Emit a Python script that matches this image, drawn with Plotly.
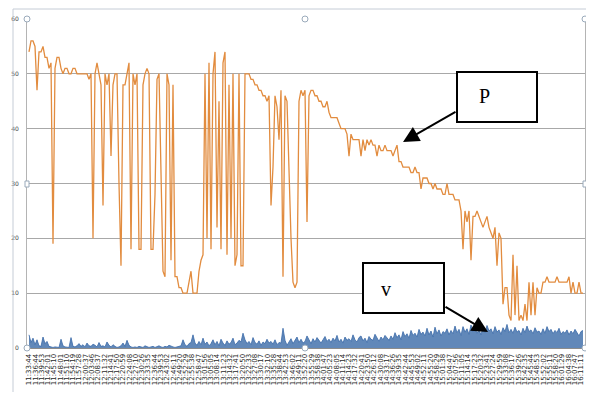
import numpy as np
import plotly.graph_objects as go

# ---------------- data ----------------
time_labels = [
    "11:33:44", "11:36:44", "11:39:53", "11:42:01", "11:45:10", "11:48:01", "11:51:10", "11:54:19",
    "11:57:28", "12:00:37", "12:03:46", "12:08:37", "12:11:32", "12:14:41", "12:17:50", "12:20:59",
    "12:24:08", "12:27:10", "12:30:26", "12:33:35", "12:36:44", "12:39:53", "12:43:02", "12:46:11",
    "12:49:20", "12:52:29", "12:55:38", "12:58:47", "13:01:56", "13:05:05", "13:08:14", "13:11:23",
    "13:14:32", "13:17:41", "13:20:50", "13:22:33", "13:27:08", "13:30:17", "13:32:10", "13:35:28",
    "13:38:44", "13:42:53", "13:46:02", "13:49:11", "13:52:20", "13:55:29", "13:58:38", "14:01:47",
    "14:05:23", "14:08:05", "14:11:14", "14:14:23", "14:17:32", "14:20:41", "14:23:50", "14:26:12",
    "14:30:08", "14:33:17", "14:36:26", "14:39:35", "14:42:44", "14:45:53", "14:49:02", "14:52:11",
    "14:55:20", "14:58:29", "15:01:38", "15:04:47", "15:07:56", "15:11:05", "15:14:14", "15:17:23",
    "15:20:32", "15:23:41", "15:27:24", "15:29:59", "15:33:08", "15:36:17", "15:39:26", "15:42:35",
    "15:45:44", "15:48:53", "15:52:02", "15:55:11", "15:58:20", "16:01:29", "16:04:38", "16:07:47",
    "16:11:11",
]

P_values = [
    54, 56, 56, 55, 47, 54, 54, 55, 53, 53, 51,
    52, 19, 51, 53, 53, 51, 50, 51, 51, 50,
    50, 51, 51, 50, 50, 50, 50, 50, 50, 49,
    50, 20, 50, 52, 50, 48, 26, 50, 48, 50,
    35, 48, 50, 50, 30, 15, 48, 48, 50, 52,
    18, 50, 48, 50, 18, 18, 48, 50, 51, 50,
    18, 18, 28, 49, 50, 32, 14, 13, 50, 48,
    16, 48, 13, 13, 11, 11, 10, 10, 10, 12,
    14, 10, 10, 10, 14, 16, 17, 50, 20, 52,
    18, 50, 54, 22, 45, 18, 52, 54, 17, 48,
    20, 50, 15, 17, 50, 15, 15, 50, 50, 50,
    49, 49, 48, 48, 47, 47, 46, 46, 45, 46,
    26, 33, 46, 44, 38, 47, 13, 46, 45, 30,
    20, 12, 11, 12, 45, 47, 46, 47, 23, 46,
    47, 47, 46, 46, 45, 45, 44, 44, 45, 43,
    42, 42, 42, 42, 41, 40, 40, 40, 39, 35,
    39, 38, 38, 38, 38, 35, 38, 36, 38, 37,
    38, 37, 37, 35, 37, 36, 36, 37, 36, 36,
    36, 35, 36, 37, 34, 34, 33, 33, 33, 33,
    32, 32, 33, 32, 32, 29, 31, 31, 31, 30,
    30, 29, 30, 29, 29, 29, 28, 28, 30, 28,
    28, 28, 27, 27, 27, 25, 18, 25, 23, 25,
    16, 24, 24, 25, 24, 23, 22, 23, 24, 22,
    21, 20, 22, 15, 21, 20, 8, 11, 11, 6,
    5, 17, 6, 15, 5, 6, 5, 8, 5, 12,
    6, 12, 6, 11, 10, 10, 12, 12, 13, 12,
    12, 12, 12, 13, 12, 12, 12, 12, 12, 13,
    10, 12, 10, 10, 12, 10, 10,
]

v_values = [
    2.4, 1.0, 1.8, 0.6, 1.5, 0.4, 0.3, 2.0, 0.8, 1.2, 0.3, 0.2, 0.1, 0.2, 0.1, 0.1,
    1.6, 0.4, 0.2, 0.1, 0.1, 1.9, 0.3, 0.2, 0.4, 0.8, 0.3, 0.6, 0.2, 0.9, 0.4,
    0.3, 0.7, 0.5, 0.2, 1.0, 0.3, 0.4, 0.2, 1.1, 0.5, 0.2, 0.6, 0.3, 0.1, 0.2,
    0.4, 0.9, 0.3, 1.4, 0.5, 0.2, 0.1, 0.2, 0.1, 0.3, 0.2, 0.1, 0.4, 0.2, 0.1,
    0.2, 0.3, 0.1, 0.2, 0.4, 0.2, 0.1, 0.3, 0.2, 0.5, 0.3, 0.2, 0.1, 0.2, 0.3,
    0.4, 1.5, 0.6, 0.3, 0.8, 1.0, 2.4, 0.9, 0.5, 1.2, 0.6, 1.8, 0.7, 1.1, 0.4,
    0.8, 1.5, 0.6, 1.2, 0.4, 1.6, 0.9, 0.5, 1.3, 0.7, 1.0, 1.8, 0.6, 0.9, 1.4,
    1.1, 2.7, 1.5, 0.8, 1.2, 0.6, 1.9, 1.0, 0.7, 1.3, 0.5, 1.1, 0.8, 1.6, 0.9,
    1.2, 0.7, 1.5, 0.6, 1.0, 0.9, 3.6, 1.4, 0.5, 1.1, 1.7, 0.8, 1.3, 2.0, 1.0,
    1.6, 0.9, 1.2, 2.2, 1.4, 0.8, 1.7, 1.1, 1.9, 1.3, 0.9, 1.5, 2.1, 1.2, 1.6,
    1.0, 1.8, 1.3, 2.3, 1.1, 1.6, 0.9, 2.0, 1.4, 1.7, 1.2, 2.4, 1.5, 1.1, 1.9,
    2.2, 1.3, 1.8, 1.0, 2.1, 1.6, 1.4, 2.5, 1.7, 1.2, 2.0, 1.5, 2.3, 1.8, 1.4,
    2.2, 1.6, 2.8, 1.9, 2.4, 1.5, 3.0, 2.1, 2.6, 1.8, 3.2, 2.3, 2.7, 2.0, 3.4,
    2.5, 2.9, 2.2, 3.6, 2.4, 3.1, 2.0, 3.8, 2.6, 3.3, 2.2, 3.0, 2.7, 3.5, 2.4,
    3.2, 2.6, 4.0, 2.8, 3.4, 2.3, 3.9, 2.9, 3.5, 2.5, 4.2, 3.0, 3.6, 2.7, 3.3,
    2.4, 3.8, 2.8, 4.1, 3.1, 3.5, 2.6, 3.9, 2.9, 3.3, 2.5, 3.7, 3.0, 4.3, 2.8,
    3.4, 2.7, 3.8, 2.9, 3.2, 2.4, 3.6, 2.8, 4.0, 3.0, 3.3, 2.6, 3.7, 2.9, 3.1,
    2.5, 3.5, 2.7, 3.9, 3.0, 3.4, 2.6, 3.2, 2.8, 3.6, 2.5, 3.0, 2.7, 3.3, 2.4,
    3.1, 2.6, 3.4, 2.8, 2.2, 3.0, 3.2,
]

y_ticks = [0, 10, 20, 30, 40, 50, 60]

# ---------------- figure ----------------
# the page body adds an 8px offset, so the figure is sized/shifted to compensate
OFF = 8
W, H = 594 - OFF, 394 - OFF
L, R, T = 27 - OFF, 9, 19 - OFF
B = H - (348 - OFF)
pw, ph = W - L - R, H - T - B

def px(x):
    return (x - OFF - L) / pw

def py(y):
    return (H - B - (y - OFF)) / ph

n_lab = len(time_labels)
unit = (581 - 29) / (n_lab - 1)
x_end = (583 - 29) / unit
xP = np.linspace(0, x_end, len(P_values))
xv = np.linspace(0, x_end, len(v_values))
x_range = [-(29 - 27) / unit, (585 - 29) / unit]

fig = go.Figure()
fig.add_trace(go.Scatter(
    x=xv, y=v_values, mode="lines", name="v",
    line=dict(color="#3a6aa8", width=0.8), fill="tozeroy", fillcolor="rgba(58,106,168,0.8)",
))
fig.add_trace(go.Scatter(
    x=xP, y=P_values, mode="lines", name="P",
    line=dict(color="#e28c3f", width=1.3),
))

fig.update_layout(
    width=W, height=H,
    margin=dict(l=L, r=R, t=T, b=B, autoexpand=False),
    paper_bgcolor="white", plot_bgcolor="white",
    showlegend=False,
    font=dict(family="DejaVu Sans", color="#333333"),
)
fig.update_xaxes(
    range=x_range, tickmode="array", automargin=False,
    tickvals=list(range(n_lab)), ticktext=time_labels,
    tickangle=-90, tickfont=dict(size=7, color="#2a2a2a", family="DejaVu Sans"),
    showgrid=False, zeroline=False,
    showline=True, linecolor="#8c8c8c", linewidth=1,
    ticks="", ticklabelstandoff=2,
)
fig.update_yaxes(
    range=[0, 60], tickmode="array", tickvals=y_ticks, automargin=False,
    tickfont=dict(size=6, color="#444444"),
    showgrid=True, gridcolor="#a8a8a8", gridwidth=1,
    zeroline=False, showline=True, linecolor="#b4b4b4", mirror=True,
    ticks="", ticklabelstandoff=6,
)

shapes = []
# outer chart frame (left and top)
shapes.append(dict(type="line", xref="paper", yref="paper", x0=px(13), x1=px(13), y0=py(9), y1=py(392),
                   line=dict(color="#c5ccd6", width=1)))
shapes.append(dict(type="line", xref="paper", yref="paper", x0=px(13), x1=px(590), y0=py(9), y1=py(9),
                   line=dict(color="#c5ccd6", width=1)))
# plot area selection handles
for hx, hy in [(27, 19), (305, 19), (585, 19), (27, 348), (305, 348), (585, 348)]:
    shapes.append(dict(type="circle", xref="paper", yref="paper",
                       x0=px(hx - 3), x1=px(hx + 3), y0=py(hy + 3), y1=py(hy - 3),
                       line=dict(color="#9aaabb", width=1), fillcolor="white"))
for hx, hy in [(27, 184), (585, 184)]:
    shapes.append(dict(type="rect", xref="paper", yref="paper",
                       x0=px(hx - 2), x1=px(hx + 2), y0=py(hy + 3), y1=py(hy - 3),
                       line=dict(color="#9aaabb", width=1), fillcolor="white"))
# label boxes
shapes.append(dict(type="rect", xref="paper", yref="paper", x0=px(457), x1=px(537), y0=py(122), y1=py(72),
                   line=dict(color="black", width=2), fillcolor="white"))
shapes.append(dict(type="rect", xref="paper", yref="paper", x0=px(363), x1=px(444), y0=py(313), y1=py(263),
                   line=dict(color="black", width=2), fillcolor="white"))
fig.update_layout(shapes=shapes)

annotations = [
    dict(xref="paper", yref="paper", x=px(484), y=py(96), text="P", showarrow=False,
         xanchor="center", yanchor="middle",
         font=dict(family="Liberation Serif", size=20, color="black")),
    dict(xref="paper", yref="paper", x=px(386), y=py(289), text="v", showarrow=False,
         xanchor="center", yanchor="middle",
         font=dict(family="Liberation Serif", size=20, color="black")),
    dict(xref="paper", yref="paper", x=px(403), y=py(142), ax=457 - 403, ay=111 - 142,
         text="", showarrow=True, arrowhead=2, arrowsize=1.6, arrowwidth=2, arrowcolor="black"),
    dict(xref="paper", yref="paper", x=px(488), y=py(332), ax=444 - 488, ay=306 - 332,
         text="", showarrow=True, arrowhead=2, arrowsize=1.6, arrowwidth=2, arrowcolor="black"),
]
fig.update_layout(annotations=annotations)

fig.write_html("out.html")
